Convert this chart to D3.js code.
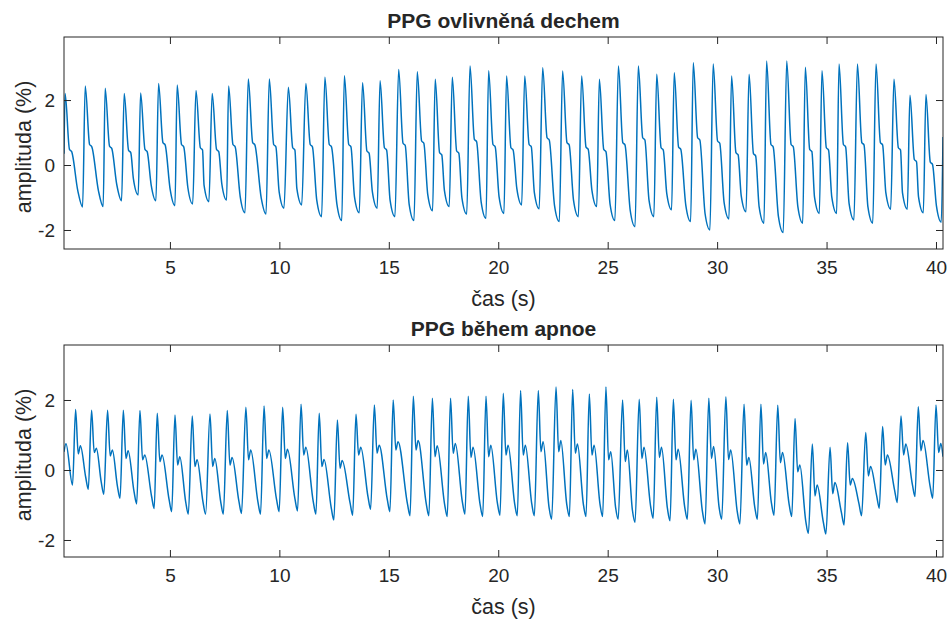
<!DOCTYPE html>
<html>
<head>
<meta charset="utf-8">
<script src="https://d3js.org/d3.v7.min.js"></script>
<style>
  body { margin: 0; background: #fff; }
  svg text { font-family: "Liberation Sans", Arial, Helvetica, sans-serif; fill: #262626; }
</style>
</head>
<body>
<div id="chart"></div>
<script>
// ---- data ----
// top panel: PPG ovlivnena dechem
var dechLeadT = [];
var dechLeadV = [];
var dechTroughT = [0.16, 1.01, 1.95, 2.79, 3.55, 4.36, 5.23, 6.04, 6.78, 7.59, 8.43, 9.39, 10.21, 11.02, 11.93, 12.85,
    13.65, 14.47, 15.28, 16.15, 17.00, 17.76, 18.56, 19.44, 20.26, 21.07, 21.87, 22.79, 23.66, 24.50, 25.33, 26.25,
    27.11, 27.92, 28.79, 29.67, 30.54, 31.32, 32.14, 33.02, 33.91, 34.67, 35.46, 36.25, 37.11, 37.93, 38.69, 39.42, 40.24];
var dechTroughV = [0.35, -1.29, -1.28, -1.10, -0.92, -1.10, -1.25, -1.20, -1.13, -1.08, -1.47, -1.51, -1.33, -1.23, -1.59, -1.71,
    -1.47, -1.33, -1.59, -1.71, -1.41, -1.28, -1.51, -1.64, -1.49, -1.23, -1.35, -1.74, -1.59, -1.28, -1.71, -1.90,
    -1.59, -1.38, -1.74, -2.00, -1.66, -1.44, -1.79, -2.08, -1.79, -1.49, -1.49, -1.69, -1.79, -1.36, -1.36, -1.47, -1.76];
var dechPeakT = [0.21, 1.13, 2.04, 2.91, 3.66, 4.48, 5.33, 6.19, 6.93, 7.68, 8.58, 9.54, 10.41, 11.21, 12.08, 12.97,
    13.80, 14.60, 15.45, 16.30, 17.12, 17.90, 18.71, 19.56, 20.38, 21.21, 22.03, 22.94, 23.81, 24.62, 25.49, 26.40,
    27.24, 28.04, 28.91, 29.82, 30.66, 31.46, 32.26, 33.18, 34.03, 34.79, 35.57, 36.41, 37.26, 38.08, 38.81, 39.54];
var dechPeakV = [2.20, 2.43, 2.36, 2.20, 2.22, 2.51, 2.46, 2.29, 2.20, 2.43, 2.65, 2.65, 2.39, 2.51, 2.70, 2.75,
    2.53, 2.59, 2.94, 2.87, 2.64, 2.70, 3.05, 2.90, 2.74, 2.74, 2.99, 2.89, 2.74, 2.64, 3.05, 3.05,
    2.79, 2.84, 3.15, 3.11, 2.74, 2.79, 3.20, 3.20, 3.01, 2.90, 3.11, 3.11, 3.11, 2.64, 2.15, 2.17];
var dechNotchV = [0.41, 0.56, 0.51, 0.38, 0.41, 0.62, 0.56, 0.46, 0.41, 0.56, 0.62, 0.56, 0.46, 0.56, 0.56, 0.56,
    0.36, 0.46, 0.60, 0.67, 0.31, 0.36, 0.72, 0.56, 0.46, 0.56, 0.77, 0.62, 0.48, 0.41, 0.62, 0.77,
    0.46, 0.48, 0.77, 0.67, 0.31, 0.28, 0.56, 0.56, 0.41, 0.46, 0.56, 0.62, 0.62, 0.46, 0.10, 0.02];
var dechTailT = [40.32];
var dechTailV = [0.86];

// bottom panel: PPG behem apnoe
var apnoeLeadT = [0.16, 0.25];
var apnoeLeadV = [0.52, 0.75];
var apnoeTroughT = [0.55, 1.27, 1.98, 2.72, 3.48, 4.28, 5.08, 5.84, 6.63, 7.44, 8.27, 9.14, 9.99, 10.83, 11.67, 12.49, 13.35,
    14.17, 15.05, 15.97, 16.83, 17.67, 18.48, 19.29, 20.08, 20.87, 21.65, 22.44, 23.25, 24.01, 24.77, 25.48, 26.25,
    27.08, 27.85, 28.64, 29.45, 30.21, 31.04, 31.84, 32.60, 33.41, 34.17, 34.97, 35.80, 36.60, 37.41, 38.23, 39.04, 39.85];
var apnoeTroughV = [-0.43, -0.55, -0.69, -0.81, -0.97, -1.10, -1.19, -1.26, -1.26, -1.26, -1.24, -1.26, -1.19, -1.17, -1.26, -1.43, -1.29,
    -1.12, -1.19, -1.31, -1.31, -1.33, -1.26, -1.33, -1.29, -1.31, -1.31, -1.41, -1.33, -1.33, -1.33, -1.41, -1.50,
    -1.38, -1.45, -1.41, -1.54, -1.41, -1.54, -1.41, -1.29, -1.33, -1.81, -1.83, -1.57, -1.31, -1.09, -0.93, -0.76, -0.81];
var apnoePeakT = [0.69, 1.42, 2.15, 2.87, 3.63, 4.42, 5.23, 6.02, 6.83, 7.62, 8.47, 9.30, 10.15, 10.99, 11.82, 12.65, 13.50,
    14.34, 15.20, 16.12, 16.99, 17.82, 18.63, 19.44, 20.23, 21.02, 21.83, 22.64, 23.40, 24.16, 24.92, 25.68, 26.44,
    27.24, 28.00, 28.81, 29.62, 30.40, 31.23, 32.00, 32.77, 33.56, 34.35, 35.16, 35.96, 36.79, 37.56, 38.40, 39.19, 40.00];
var apnoePeakV = [1.73, 1.71, 1.71, 1.71, 1.70, 1.62, 1.57, 1.54, 1.60, 1.70, 1.79, 1.83, 1.79, 1.88, 1.62, 1.43, 1.59,
    1.86, 2.00, 2.11, 2.05, 2.05, 2.11, 2.11, 2.19, 2.27, 2.27, 2.37, 2.30, 2.17, 2.37, 2.00, 2.02,
    2.08, 2.02, 1.99, 2.05, 2.09, 1.88, 1.88, 1.85, 1.47, 0.74, 0.65, 0.78, 1.07, 1.24, 1.54, 1.81, 1.86];
var apnoeDipV = [0.46, 0.50, 0.40, 0.33, 0.29, 0.24, 0.14, 0.10, 0.10, 0.14, 0.29, 0.33, 0.33, 0.43, 0.10, 0.05, 0.43,
    0.48, 0.57, 0.57, 0.38, 0.48, 0.36, 0.38, 0.43, 0.43, 0.52, 0.52, 0.48, 0.43, 0.29, 0.24, 0.33,
    0.36, 0.29, 0.29, 0.33, 0.30, 0.14, 0.17, 0.21, -0.05, -0.74, -0.68, -0.43, -0.17, 0.14, 0.43, 0.55, 0.50];
var apnoeBumpV = [0.69, 0.62, 0.57, 0.55, 0.43, 0.43, 0.38, 0.29, 0.33, 0.36, 0.57, 0.57, 0.59, 0.65, 0.30, 0.27, 0.65,
    0.71, 0.81, 0.84, 0.69, 0.76, 0.65, 0.71, 0.71, 0.71, 0.81, 0.84, 0.74, 0.71, 0.52, 0.57, 0.65,
    0.65, 0.59, 0.59, 0.67, 0.57, 0.36, 0.50, 0.50, 0.14, -0.43, -0.36, -0.24, 0.10, 0.43, 0.74, 0.84, 0.76];
var apnoeTailT = [40.32];
var apnoeTailV = [0.38];

var xTicks = [5, 10, 15, 20, 25, 30, 35, 40];
var yTicks = [-2, 0, 2];

// ---- layout ----
var width = 949, height = 621;
var plotLeft = 64, plotRight = 943;
var lineColor = "#0072BD", axisColor = "#262626";

var svg = d3.select("#chart").append("svg")
    .attr("width", width)
    .attr("height", height);

var x = d3.scaleLinear().domain([0.16, 40.32]).range([plotLeft, plotRight]);

//turn the per-beat arrays into a list of [t, v] points
function beatPoints(p){
    var pts = [];
    p.leadT.forEach(function(t, i){ pts.push([t, p.leadV[i]]); });
    p.peakT.forEach(function(tp, i){
        pts.push([p.troughT[i], p.troughV[i]]);
        pts.push([tp, p.peakV[i]]);
        if (p.bumpV){
            pts.push([tp + 0.12, p.dipV[i]]);
            pts.push([tp + 0.22, p.bumpV[i]]);
        } else {
            pts.push([tp + 0.2, p.notchV[i] + 0.07]);
            pts.push([tp + 0.3, p.notchV[i]]);
        }
        if (i + 1 < p.troughT.length){
            pts.push([p.troughT[i + 1] - p.kneeDt, p.troughV[i + 1] + p.kneeDv]);
        }
    });
    if (p.troughT.length > p.peakT.length){
        var last = p.troughT.length - 1;
        pts.push([p.troughT[last], p.troughV[last]]);
    }
    p.tailT.forEach(function(t, i){ pts.push([t, p.tailV[i]]); });
    return pts;
}

var panels = [
    { title: "PPG ovlivněná dechem", top: 37, bottom: 249, yDomain: [-2.585, 3.94],
      leadT: dechLeadT, leadV: dechLeadV, troughT: dechTroughT, troughV: dechTroughV,
      peakT: dechPeakT, peakV: dechPeakV, notchV: dechNotchV,
      tailT: dechTailT, tailV: dechTailV, kneeDt: 0.22, kneeDv: 0.5 },
    { title: "PPG během apnoe", top: 345, bottom: 557, yDomain: [-2.486, 3.571],
      leadT: apnoeLeadT, leadV: apnoeLeadV, troughT: apnoeTroughT, troughV: apnoeTroughV,
      peakT: apnoePeakT, peakV: apnoePeakV, dipV: apnoeDipV, bumpV: apnoeBumpV,
      tailT: apnoeTailT, tailV: apnoeTailV, kneeDt: 0.12, kneeDv: 0.35 }
];

panels.forEach(function(p, k){
    var y = d3.scaleLinear().domain(p.yDomain).range([p.bottom, p.top]);
    var g = svg.append("g");

    g.append("clipPath").attr("id", "clip" + k)
      .append("rect")
        .attr("x", plotLeft).attr("y", p.top)
        .attr("width", plotRight - plotLeft).attr("height", p.bottom - p.top);

    var line = d3.line()
        .x(function(d){ return x(d[0]); })
        .y(function(d){ return y(d[1]); })
        .curve(d3.curveMonotoneX);

    g.append("path")
        .datum(beatPoints(p))
        .attr("clip-path", "url(#clip" + k + ")")
        .attr("fill", "none")
        .attr("stroke", lineColor)
        .attr("stroke-width", 1.5)
        .attr("stroke-linejoin", "round")
        .attr("d", line);

    //axes, ticks pointing inward on all four sides
    var fs = 19;
    var xb = g.append("g").attr("transform", "translate(0," + p.bottom + ")")
        .call(d3.axisBottom(x).tickValues(xTicks).tickSizeInner(-7).tickSizeOuter(0).tickPadding(12).tickFormat(String));
    var xt = g.append("g").attr("transform", "translate(0," + p.top + ")")
        .call(d3.axisTop(x).tickValues(xTicks).tickSizeInner(-7).tickSizeOuter(0).tickFormat(""));
    var yl = g.append("g").attr("transform", "translate(" + plotLeft + ",0)")
        .call(d3.axisLeft(y).tickValues(yTicks).tickSizeInner(-7).tickSizeOuter(0).tickPadding(9).tickFormat(String));
    var yr = g.append("g").attr("transform", "translate(" + plotRight + ",0)")
        .call(d3.axisRight(y).tickValues(yTicks).tickSizeInner(-7).tickSizeOuter(0).tickFormat(""));

    [xb, xt, yl, yr].forEach(function(a){
        a.select(".domain").remove();
        a.selectAll("line").attr("stroke", axisColor).attr("stroke-width", 1);
        a.selectAll("text").style("font-size", fs + "px").attr("fill", axisColor)
          .style("font-family", "'Liberation Sans', Arial, sans-serif");
    });
    xb.selectAll("text").attr("dy", "0.71em");

    //box
    g.append("rect")
        .attr("x", plotLeft).attr("y", p.top)
        .attr("width", plotRight - plotLeft).attr("height", p.bottom - p.top)
        .attr("fill", "none").attr("stroke", axisColor).attr("stroke-width", 1);

    //title and labels
    var cx = (plotLeft + plotRight) / 2;
    g.append("text")
        .attr("x", cx).attr("y", p.top - 9)
        .attr("text-anchor", "middle")
        .style("font-size", "21px").style("font-weight", "bold")
        .text(p.title);

    g.append("text")
        .attr("x", cx).attr("y", p.bottom + 57)
        .attr("text-anchor", "middle")
        .style("font-size", "21.5px")
        .text("čas (s)");

    g.append("text")
        .attr("transform", "translate(31," + ((p.top + p.bottom) / 2 + 4) + ") rotate(-90)")
        .attr("text-anchor", "middle")
        .style("font-size", "21.5px")
        .text("amplituda (%)");
});
</script>
</body>
</html>
